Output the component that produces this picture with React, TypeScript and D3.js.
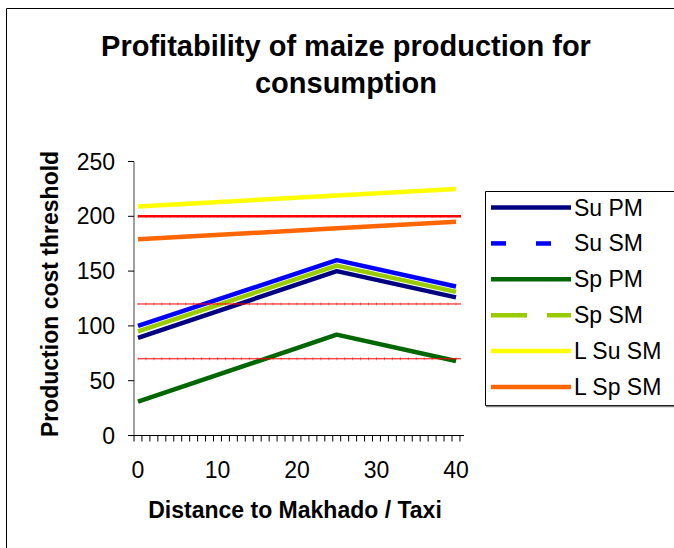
import React from "react";
import * as d3 from "d3";

const W = 674;
const H = 548;
const FONT = "'Liberation Sans', Arial, sans-serif";

// distance categories (0..40), labels every 10
const categories = d3.range(0, 41);
const xTickLabels = [0, 10, 20, 30, 40];
const yTicks = [0, 50, 100, 150, 200, 250];

// series at distances 0, 25 and 40
const distances = [0, 25, 40];
const suPM = [89, 150, 126];
const suSM = [100, 160, 136];
const spPM = [31, 92, 68];
const spSM = [95, 155, 131];
const lSuSM = [209, 219, 225];
const lSpSM = [179, 189, 195];

// red threshold lines
const thresholds = [200, 120, 70];
const thresholdWidths = [2.5, 1, 1];

const seriesNames = ["Su PM", "Su SM", "Sp PM", "Sp SM", "L Su SM", "L Sp SM"];
const seriesValues = [suPM, suSM, spPM, spSM, lSuSM, lSpSM];
const seriesColors = ["#000080", "#0000ff", "#006600", "#99cc00", "#ffff00", "#ff6600"];
const legendDash = [null, "15 30", null, "36 20", null, null];

const plot = { left: 134, right: 464, top: 161.5, bottom: 435.5 };
const unit = 7.95;

export default function App() {
  const x = d3.scaleLinear().domain([0, 40]).range([138, 138 + unit * 40]);
  const y = d3.scaleLinear().domain([0, 250]).range([plot.bottom, plot.top]);

  const line = d3
    .line<[number, number]>()
    .x((d) => x(d[0]))
    .y((d) => y(d[1]));

  const drawOrder = [0, 1, 3, 2, 4, 5];
  const xTickMarks = d3.range(0, 42).map((i) => plot.left + i * unit);

  const legendTop = 207.5;
  const legendStep = 35.9;

  return (
    <svg
      width={W}
      height={H}
      style={{ position: "absolute", left: 0, top: 0, background: "#fff" }}
      fontFamily={FONT}
    >
      <rect x={0} y={0} width={W} height={H} fill="#fff" />
      {/* chart border */}
      <path d={`M6.5,${H + 5} V8.5 H${W + 5}`} fill="none" stroke="#000" strokeWidth={1} />

      {/* title */}
      <text x={346} y={56} textAnchor="middle" fontSize={29} fontWeight="bold">
        Profitability of maize production for
      </text>
      <text x={346} y={93} textAnchor="middle" fontSize={29} fontWeight="bold">
        consumption
      </text>

      {/* y axis */}
      <line x1={plot.left} x2={plot.left} y1={plot.top} y2={plot.bottom} stroke="#808080" strokeWidth={1.5} />
      {yTicks.map((t) => (
        <g key={t}>
          <line x1={plot.left - 6} x2={plot.left} y1={y(t)} y2={y(t)} stroke="#000" strokeWidth={1} />
          <text x={115} y={y(t) + 8} textAnchor="end" fontSize={23}>
            {t}
          </text>
        </g>
      ))}

      {/* x axis */}
      <line x1={plot.left} x2={plot.right} y1={plot.bottom} y2={plot.bottom} stroke="#000" strokeWidth={1.2} />
      {xTickMarks.map((tx, i) => (
        <line key={i} x1={tx} x2={tx} y1={plot.bottom} y2={plot.bottom + 6} stroke="#000" strokeWidth={1} />
      ))}
      {xTickLabels.map((t) => (
        <text key={t} x={x(t)} y={478} textAnchor="middle" fontSize={23}>
          {t}
        </text>
      ))}

      {/* axis titles */}
      <text x={295} y={518} textAnchor="middle" fontSize={23} fontWeight="bold">
        Distance to Makhado / Taxi
      </text>
      <text
        transform={`translate(58,294) rotate(-90)`}
        textAnchor="middle"
        fontSize={23}
        fontWeight="bold"
      >
        Production cost threshold
      </text>

      {/* series */}
      {drawOrder.map((si) => (
        <path
          key={si}
          d={line(distances.map((d, j) => [d, seriesValues[si][j]]) as [number, number][]) || ""}
          fill="none"
          stroke={seriesColors[si]}
          strokeWidth={4.5}
          strokeLinejoin="round"
        />
      ))}

      {/* thresholds */}
      {thresholds.map((t, i) => (
        <g key={t}>
          <line
            x1={x(0)}
            x2={x(40) + 5}
            y1={y(t)}
            y2={y(t)}
            stroke="#ff0000"
            strokeWidth={thresholdWidths[i]}
          />
          {categories.map((c) => (
            <line
              key={c}
              x1={x(c)}
              x2={x(c)}
              y1={y(t) - 1.5}
              y2={y(t) + 1.5}
              stroke="#ff0000"
              strokeOpacity={0.5}
              strokeWidth={1}
            />
          ))}
        </g>
      ))}

      {/* legend */}
      <path d={`M${W + 5},191.5 H485.5 V405.5 H${W + 5}`} fill="none" stroke="#000" strokeWidth={1} />
      <line x1={486} x2={W} y1={406.5} y2={406.5} stroke="#808080" strokeWidth={1.5} />
      {seriesNames.map((name, i) => {
        const ly = legendTop + i * legendStep;
        return (
          <g key={name}>
            <line
              x1={491}
              x2={571}
              y1={ly}
              y2={ly}
              stroke={seriesColors[i]}
              strokeWidth={4.5}
              strokeDasharray={legendDash[i] || undefined}
            />
            <text x={574} y={ly + 8} fontSize={23}>
              {name}
            </text>
          </g>
        );
      })}
    </svg>
  );
}
